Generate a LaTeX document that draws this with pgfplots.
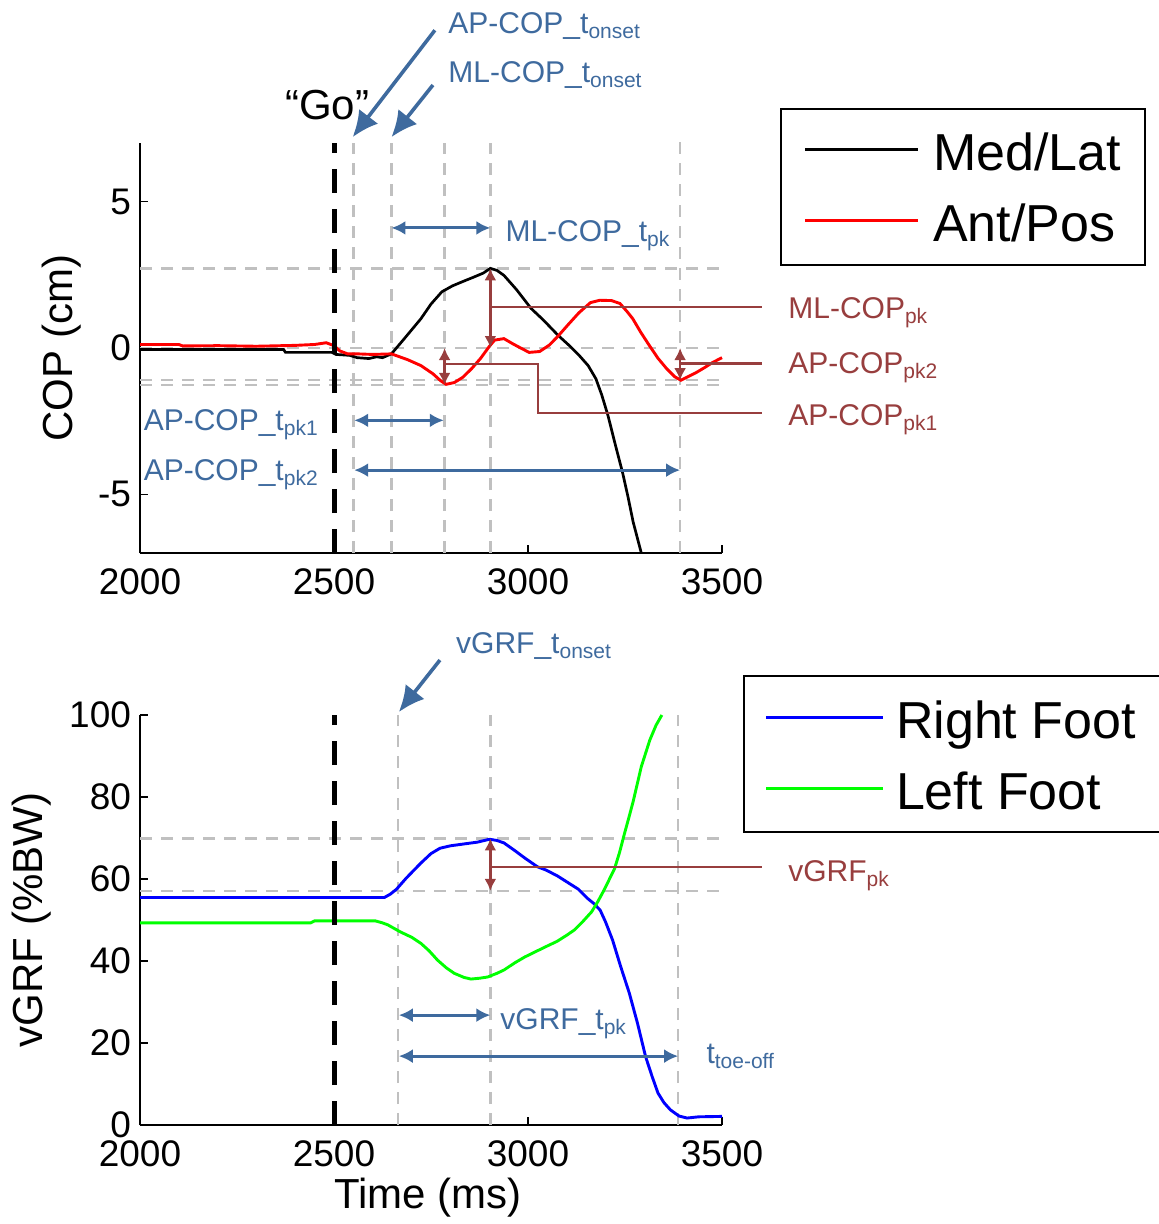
\documentclass[border=0pt]{standalone}
\usepackage{pgfplots}
\pgfplotsset{compat=1.18}
\usepackage{fontspec}
\setmainfont{Liberation Sans}
\usetikzlibrary{arrows.meta}
\definecolor{ablue}{RGB}{62,106,158}
\definecolor{abrown}{RGB}{152,62,62}
\definecolor{agray}{RGB}{192,192,192}
\definecolor{agreen}{RGB}{0,255,0}
\newcommand{\sbs}[1]{\raisebox{-2.5pt}{\fontsize{10.5}{11}\selectfont #1}}
\tikzset{
  gdash/.style={draw=agray, line width=1.2pt, dash pattern=on 6pt off 4.5pt},
  godash/.style={draw=black, line width=2.5pt, dash pattern=on 12pt off 8pt},
  barrow/.style={draw=ablue, line width=1.5pt, {Latex[length=7pt,width=7pt]}-{Latex[length=7pt,width=7pt]}},
  oarrow/.style={draw=ablue, line width=1.8pt, -{Latex[length=13pt,width=12pt]}},
  brarrow/.style={draw=abrown, line width=1.3pt, {Latex[length=6pt,width=6pt]}-{Latex[length=6pt,width=6pt]}},
  brline/.style={draw=abrown, line width=1.3pt},
  btext/.style={text=ablue, font=\fontsize{15}{17}\selectfont, inner sep=0pt},
  rtext/.style={text=abrown, font=\fontsize{15}{17}\selectfont, inner sep=0pt},
}
\pgfplotsset{
  common/.style={
    scale only axis, width=291pt, height=205pt,
    xmin=2000, xmax=3500,
    xtick={2000,2500,3000,3500},
    axis x line*=bottom, axis y line*=left,
    axis line style={line width=1pt, black, -},
    tick align=inside, major tick length=4pt,
    tick style={black, line width=0.8pt},
    tick label style={font=\fontsize{18.5}{20}\selectfont},
    xticklabel style={yshift=-4.5pt},
    yticklabel style={xshift=-1pt},
    /pgf/number format/assume math mode=true,
    /pgf/number format/1000 sep={},
    label style={font=\fontsize{21}{24}\selectfont},
    clip=false,
  }
}
\begin{document}
\begin{tikzpicture}
\useasboundingbox (0pt,0pt) rectangle (579pt,-612pt);
% ---------------- top axis ----------------
\begin{axis}[common,
  at={(70pt,-276.5pt)}, anchor=south west,
  ymin=-7, ymax=7, ytick={-5,0,5},
  ylabel={COP (cm)},
  ylabel style={at={(axis description cs:-0.134,0.5)}, anchor=center},
]
% gray guides
\draw[gdash] (axis cs:2550,-7) -- (axis cs:2550,7);
\draw[gdash] (axis cs:2648,-7) -- (axis cs:2648,7);
\draw[gdash] (axis cs:2785,-7) -- (axis cs:2785,7);
\draw[gdash] (axis cs:2903,-7) -- (axis cs:2903,7);
\draw[gdash] (axis cs:3392,-7) -- (axis cs:3392,7.3);
\draw[gdash] (axis cs:2000,2.72) -- (axis cs:3510,2.72);
\draw[gdash] (axis cs:2000,0) -- (axis cs:3510,0);
\draw[gdash] (axis cs:2000,-1.1) -- (axis cs:3510,-1.1);
\draw[gdash] (axis cs:2000,-1.26) -- (axis cs:3510,-1.26);
% data
\addplot[black, line width=1.35pt] coordinates {
(2000,-0.05)(2370,-0.05)(2375,-0.15)(2495,-0.15)(2505,-0.22)(2540,-0.25)(2560,-0.33)(2590,-0.36)(2610,-0.3)(2625,-0.33)(2648,-0.2)
(2680,0.3)(2724,1.0)(2750,1.5)(2778,1.92)(2805,2.12)(2832,2.27)(2860,2.42)(2885,2.56)(2903,2.72)(2920,2.65)(2938,2.48)
(2970,2.0)(3008,1.35)(3040,0.95)(3077,0.44)(3105,0.1)(3131,-0.24)(3155,-0.6)(3175,-1.05)(3190,-1.6)(3206,-2.3)(3225,-3.3)
(3244,-4.27)(3258,-5.1)(3271,-5.94)(3292,-7.0)};
\addplot[red, line width=1.45pt] coordinates {
(2000,0.12)(2100,0.12)(2110,0.07)(2200,0.08)(2300,0.06)(2400,0.09)(2450,0.12)(2480,0.18)(2500,0.08)(2515,-0.1)(2535,-0.2)
(2560,-0.2)(2600,-0.22)(2648,-0.2)(2690,-0.4)(2724,-0.6)(2755,-0.88)(2775,-1.12)(2789,-1.24)(2810,-1.18)(2832,-1.0)(2855,-0.7)
(2878,-0.35)(2900,0.05)(2914,0.27)(2938,0.32)(2960,0.15)(2981,0.0)(3003,-0.15)(3030,-0.12)(3055,0.1)(3077,0.4)(3105,0.82)
(3131,1.2)(3161,1.55)(3185,1.63)(3215,1.62)(3237,1.52)(3255,1.25)(3270,1.0)(3290,0.55)(3312,0.1)(3335,-0.35)(3357,-0.7)
(3378,-0.98)(3394,-1.1)(3412,-0.98)(3432,-0.85)(3455,-0.67)(3475,-0.5)(3500,-0.33)};
% Go line
\draw[godash] (axis cs:2500,-7) -- (axis cs:2500,7);
\node[font=\fontsize{21}{24}\selectfont, anchor=base, inner sep=0pt] at (axis cs:2482,7.8) {“Go”};
% blue annotations
\draw[oarrow] (axis cs:2760,10.85) -- (axis cs:2548,7.2);
\draw[oarrow] (axis cs:2755,8.98) -- (axis cs:2648,7.2);
\node[btext, anchor=base west] at (axis cs:2794,10.75) {AP-COP\_t\sbs{onset}};
\node[btext, anchor=base west] at (axis cs:2794,9.05) {ML-COP\_t\sbs{onset}};
\draw[barrow] (axis cs:2648,4.1) -- (axis cs:2903,4.1);
\node[btext, anchor=base west] at (axis cs:2941,3.65) {ML-COP\_t\sbs{pk}};
\draw[barrow] (axis cs:2552,-2.47) -- (axis cs:2783,-2.47);
\node[btext, anchor=base east] at (axis cs:2459,-2.83) {AP-COP\_t\sbs{pk1}};
\draw[barrow] (axis cs:2552,-4.17) -- (axis cs:3392,-4.17);
\node[btext, anchor=base east] at (axis cs:2459,-4.54) {AP-COP\_t\sbs{pk2}};
% brown annotations
\draw[brarrow] (axis cs:2903,0) -- (axis cs:2903,2.72);
\draw[brarrow] (axis cs:2785,0) -- (axis cs:2785,-1.26);
\draw[brarrow] (axis cs:3392,0) -- (axis cs:3392,-1.1);
\draw[brline] (axis cs:2903,1.4) -- (axis cs:3603,1.4);
\draw[brline] (axis cs:2785,-0.55) -- (axis cs:3026,-0.55) -- (axis cs:3026,-2.22) -- (axis cs:3603,-2.22);
\draw[brline] (axis cs:3392,-0.52) -- (axis cs:3603,-0.52);
\node[rtext, anchor=base west] at (axis cs:3670,1.0) {ML-COP\sbs{pk}};
\node[rtext, anchor=base west] at (axis cs:3670,-0.86) {AP-COP\sbs{pk2}};
\node[rtext, anchor=base west] at (axis cs:3670,-2.63) {AP-COP\sbs{pk1}};
\end{axis}
% ---------------- bottom axis ----------------
\begin{axis}[common,
  at={(70pt,-562.5pt)}, anchor=south west,
  ymin=0, ymax=100, ytick={0,20,40,60,80,100},
  ylabel={vGRF (\%BW)},
  ylabel style={at={(axis description cs:-0.186,0.5)}, anchor=center},
  xlabel={Time (ms)},
  xlabel style={at={(axis description cs:0.495,-0.176)}, anchor=center},
]
\draw[gdash] (axis cs:2665,0) -- (axis cs:2665,100);
\draw[gdash] (axis cs:2903,0) -- (axis cs:2903,100);
\draw[gdash] (axis cs:3387,0) -- (axis cs:3387,100);
\draw[gdash] (axis cs:2000,69.9) -- (axis cs:3510,69.9);
\draw[gdash] (axis cs:2000,57.1) -- (axis cs:3510,57.1);
\addplot[blue, line width=1.45pt] coordinates {
(2000,55.5)(2630,55.5)(2645,56.3)(2661,57.5)(2686,60.2)(2724,63.9)(2750,66.2)(2773,67.5)(2800,68.1)(2831,68.5)(2870,69.0)
(2901,69.7)(2920,69.4)(2938,68.8)(2965,67.0)(2992,65.1)(3024,63.0)(3046,62.2)(3075,60.8)(3100,59.3)(3130,57.5)(3153,55.3)
(3170,54.0)(3186,52.4)(3200,49.5)(3218,45.1)(3239,38.6)(3261,32.2)(3282,24.9)(3303,16.7)(3320,11.8)(3335,7.8)(3350,5.5)
(3367,3.7)(3389,2.2)(3410,1.7)(3440,2.0)(3500,2.1)};
\addplot[agreen, line width=1.45pt] coordinates {
(2000,49.3)(2440,49.3)(2450,49.8)(2606,49.8)(2625,49.3)(2639,48.8)(2671,47.1)(2700,45.8)(2724,44.3)(2745,42.5)(2767,40.2)
(2790,38.3)(2810,37.0)(2835,36.0)(2853,35.6)(2875,35.8)(2896,36.1)(2920,37.0)(2938,37.8)(2965,39.5)(2992,41.0)(3020,42.3)
(3046,43.5)(3075,44.8)(3100,46.3)(3120,47.6)(3140,49.5)(3164,52.0)(3180,54.5)(3196,57.3)(3210,60.0)(3223,62.5)(3236,66.5)
(3249,71.2)(3260,75.0)(3271,78.9)(3292,87.4)(3314,93.9)(3330,97.5)(3345,100)};
\draw[godash] (axis cs:2500,0) -- (axis cs:2500,100);
\draw[oarrow] (axis cs:2773,113.4) -- (axis cs:2667,100.7);
\node[btext, anchor=base west] at (axis cs:2814,114.9) {vGRF\_t\sbs{onset}};
\draw[barrow] (axis cs:2667,26.8) -- (axis cs:2903,26.8);
\node[btext, anchor=base west] at (axis cs:2928,23.4) {vGRF\_t\sbs{pk}};
\draw[barrow] (axis cs:2667,16.8) -- (axis cs:3387,16.8);
\node[btext, anchor=base west] at (axis cs:3459,15.1) {t\sbs{toe-off}};
\draw[brarrow] (axis cs:2903,57.1) -- (axis cs:2903,69.9);
\draw[brline] (axis cs:2903,62.9) -- (axis cs:3603,62.9);
\node[rtext, anchor=base west] at (axis cs:3670,59.5) {vGRF\sbs{pk}};
\end{axis}
% ---------------- legends ----------------
\draw[black, line width=1pt, fill=white] (390.5pt,-54.6pt) rectangle (572.5pt,-132.5pt);
\draw[black, line width=1.8pt] (402.5pt,-74.7pt) -- (459pt,-74.7pt);
\draw[red, line width=1.8pt] (402.5pt,-110.3pt) -- (459pt,-110.3pt);
\node[anchor=base west, inner sep=0pt, font=\fontsize{26}{30}\selectfont] at (466.3pt,-85.3pt) {Med/Lat};
\node[anchor=base west, inner sep=0pt, font=\fontsize{26}{30}\selectfont] at (466.3pt,-120.8pt) {Ant/Pos};
\draw[black, line width=1pt, fill=white] (372pt,-338pt) rectangle (585pt,-415.8pt);
\draw[blue, line width=1.8pt] (383pt,-358.7pt) -- (441.3pt,-358.7pt);
\draw[agreen, line width=1.8pt] (383pt,-394.2pt) -- (441.3pt,-394.2pt);
\node[anchor=base west, inner sep=0pt, font=\fontsize{26}{30}\selectfont] at (447.8pt,-369.2pt) {Right Foot};
\node[anchor=base west, inner sep=0pt, font=\fontsize{26}{30}\selectfont] at (447.8pt,-404.7pt) {Left Foot};
\end{tikzpicture}
\end{document}
